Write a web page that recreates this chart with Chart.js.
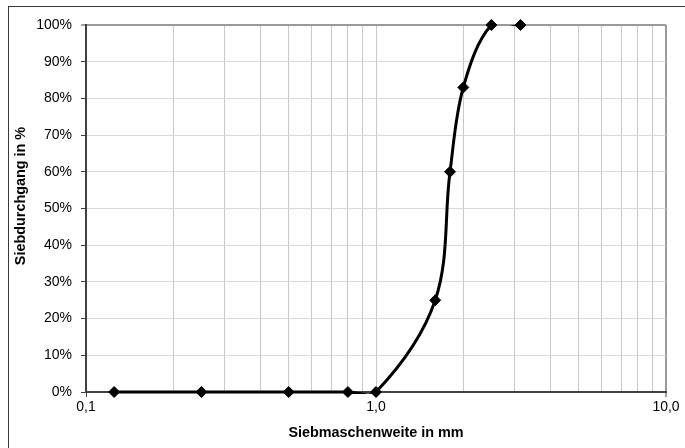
<!DOCTYPE html>
<html>
<head>
<meta charset="utf-8">
<script src="https://cdn.jsdelivr.net/npm/chart.js@4/dist/chart.umd.min.js"></script>
<style>
  html, body { margin: 0; padding: 0; background: #ffffff; }
  #wrap { position: relative; width: 685px; height: 448px; }
  canvas { display: block; }
</style>
</head>
<body>
<div id="wrap"><canvas id="c" width="685" height="448"></canvas></div>
<script>
// ---- data ----
const sieveSizes = [0.125, 0.25, 0.5, 0.8, 1.0, 1.6, 1.8, 2.0, 2.5, 3.15];
const passingPercent = [0, 0, 0, 0, 0, 25, 60, 83, 100, 100];
const xTickValues = [0.1, 0.2, 0.3, 0.4, 0.5, 0.6, 0.7, 0.8, 0.9, 1, 2, 3, 4, 5, 6, 7, 8, 9, 10];
const xMajorValues = [0.1, 1, 10];
const xMajorLabels = ['0,1', '1,0', '10,0'];
const yTickValues = [0, 10, 20, 30, 40, 50, 60, 70, 80, 90, 100];
const xTitle = 'Siebmaschenweite in mm';
const yTitle = 'Siebdurchgang in %';

const points = sieveSizes.map((x, i) => ({ x: x, y: passingPercent[i] }));

Chart.defaults.font.family = '"Liberation Sans", Arial, sans-serif';
Chart.defaults.color = '#000000';

const isMajor = v => xMajorValues.some(m => Math.abs(m - v) < 1e-9);

const frame = {
  id: 'frame',
  beforeDraw(chart) {
    const ctx = chart.ctx;
    ctx.save();
    ctx.strokeStyle = '#3a3a3a';
    ctx.lineWidth = 1;
    ctx.strokeRect(8.5, 6.5, 800, 600);
    ctx.restore();
  },
  afterDraw(chart) {
    const ctx = chart.ctx;
    ctx.save();
    ctx.font = 'bold 14.4px "Liberation Sans", Arial, sans-serif';
    ctx.fillStyle = '#000000';
    ctx.textAlign = 'center';
    ctx.textBaseline = 'middle';
    ctx.translate(21, 196);
    ctx.rotate(-Math.PI / 2);
    ctx.fillText(yTitle, 0, 0);
    ctx.restore();
  }
};

new Chart(document.getElementById('c'), {
  type: 'line',
  data: {
    datasets: [
      {
        data: points,
        borderColor: '#000000',
        borderWidth: 3,
        pointRadius: 0,
        pointHoverRadius: 0,
        tension: 0.35,
        capBezierPoints: false,
        clip: { left: 0, top: 0, right: 0, bottom: 2 },
        fill: false
      },
      {
        data: points,
        showLine: false,
        pointStyle: 'rectRot',
        pointRadius: 5.5,
        pointBackgroundColor: '#000000',
        pointBorderColor: '#000000',
        pointBorderWidth: 1,
        clip: false
      }
    ]
  },
  options: {
    responsive: false,
    animation: false,
    events: [],
    layout: { padding: { left: 8, top: 25, right: 19, bottom: 0 } },
    plugins: {
      legend: { display: false },
      tooltip: { enabled: false }
    },
    scales: {
      x: {
        type: 'logarithmic',
        min: 0.1,
        max: 10,
        afterBuildTicks(scale) {
          scale.ticks = xTickValues.map(v => ({ value: v, major: isMajor(v) }));
        },
        afterFit(scale) { scale.height = 56; },
        ticks: {
          autoSkip: false,
          maxRotation: 0,
          padding: 2,
          font: { size: 14 },
          callback(value) {
            const idx = xMajorValues.findIndex(m => Math.abs(m - value) < 1e-9);
            return idx >= 0 ? xMajorLabels[idx] : '';
          }
        },
        grid: {
          color: ctx => (ctx.tick && Math.abs(ctx.tick.value - 10) < 1e-9) ? '#9a9a9a' : '#c8c8c8',
          lineWidth: ctx => (ctx.tick && Math.abs(ctx.tick.value - 10) < 1e-9) ? 2 : 1,
          tickColor: ctx => (ctx.tick && isMajor(ctx.tick.value)) ? '#404040' : 'rgba(0,0,0,0)',
          tickLength: 5,
          tickWidth: 1
        },
        border: { color: '#404040', width: 2 },
        title: {
          display: true,
          text: xTitle,
          font: { size: 14.4, weight: 'bold' },
          padding: { top: 0, bottom: 6 }
        }
      },
      y: {
        min: 0,
        max: 100,
        afterBuildTicks(scale) {
          scale.ticks = yTickValues.map(v => ({ value: v }));
        },
        afterFit(scale) { scale.width = 78; },
        ticks: {
          padding: 9,
          font: { size: 14 },
          callback: value => value + '%'
        },
        grid: {
          color: ctx => (ctx.tick && ctx.tick.value === 100) ? '#9a9a9a' : '#d9d9d9',
          lineWidth: ctx => (ctx.tick && ctx.tick.value === 100) ? 2 : 1,
          tickColor: '#404040',
          tickLength: 5,
          tickWidth: 1
        },
        border: { color: '#404040', width: 2 }
      }
    }
  },
  plugins: [frame]
});
</script>
</body>
</html>
